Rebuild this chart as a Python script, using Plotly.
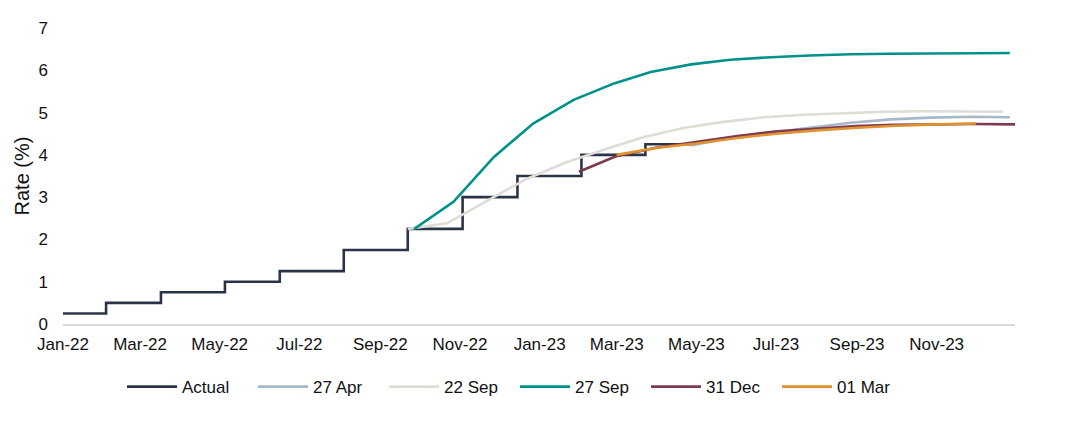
import plotly.graph_objects as go

# --- data ---
actual_dates = ["2022-01-01", "2022-02-03", "2022-03-17", "2022-05-05", "2022-06-16",
                "2022-08-04", "2022-09-22", "2022-11-03", "2022-12-15", "2023-02-02",
                "2023-03-23", "2023-04-27"]
actual_rate = [0.25, 0.5, 0.75, 1.0, 1.25, 1.75, 2.25, 3.0, 3.5, 4.0, 4.25, 4.25]

apr27_dates = ["2023-04-27", "2023-05-27", "2023-06-27", "2023-07-27", "2023-08-27",
               "2023-09-27", "2023-10-27", "2023-11-27", "2023-12-27"]
apr27_rate = [4.22, 4.40, 4.53, 4.65, 4.76, 4.84, 4.88, 4.90, 4.89]

sep22_dates = ["2022-09-22", "2022-10-22", "2022-11-22", "2022-12-22", "2023-01-22",
               "2023-02-22", "2023-03-22", "2023-04-22", "2023-05-22", "2023-06-22",
               "2023-07-22", "2023-08-22", "2023-09-22", "2023-10-22", "2023-11-22",
               "2023-12-22"]
sep22_rate = [2.25, 2.38, 2.92, 3.43, 3.83, 4.15, 4.42, 4.64, 4.78, 4.89,
              4.95, 4.99, 5.02, 5.03, 5.03, 5.02]

sep27_dates = ["2022-09-27", "2022-10-27", "2022-11-27", "2022-12-27", "2023-01-27",
               "2023-02-27", "2023-03-27", "2023-04-27", "2023-05-27", "2023-06-27",
               "2023-07-27", "2023-08-27", "2023-09-27", "2023-10-27", "2023-11-27",
               "2023-12-27"]
sep27_rate = [2.25, 2.89, 3.95, 4.74, 5.30, 5.69, 5.96, 6.14, 6.25, 6.31,
              6.35, 6.38, 6.39, 6.40, 6.41, 6.41]

dec31_dates = ["2023-01-31", "2023-02-28", "2023-03-31", "2023-04-30", "2023-05-31",
               "2023-06-30", "2023-07-31", "2023-08-31", "2023-09-30", "2023-10-31",
               "2023-11-30", "2023-12-31"]
dec31_rate = [3.60, 3.96, 4.17, 4.31, 4.44, 4.55, 4.62, 4.68, 4.71, 4.72, 4.73, 4.72]

mar01_dates = ["2023-03-01", "2023-04-01", "2023-05-01", "2023-06-01", "2023-07-01",
               "2023-08-01", "2023-09-01", "2023-10-01", "2023-11-01", "2023-12-01"]
mar01_rate = [4.00, 4.17, 4.27, 4.40, 4.50, 4.58, 4.64, 4.69, 4.72, 4.74]

series = [
    ("Actual", actual_dates, actual_rate, "#2b3447", "hv"),
    ("27 Apr", apr27_dates, apr27_rate, "#a7b9c9", "linear"),
    ("22 Sep", sep22_dates, sep22_rate, "#dddcd5", "linear"),
    ("27 Sep", sep27_dates, sep27_rate, "#00918b", "linear"),
    ("31 Dec", dec31_dates, dec31_rate, "#7e3a4f", "linear"),
    ("01 Mar", mar01_dates, mar01_rate, "#e0922f", "linear"),
]

fig = go.Figure()
for name, xs, ys, colour, shape in series:
    fig.add_trace(go.Scatter(x=xs, y=ys, name=name, mode="lines",
                             line=dict(color=colour, width=2.6, shape=shape)))

FONT = "Liberation Sans, Arial, sans-serif"

# the page body adds an 8px offset, so margins are shifted to compensate
fig.update_layout(
    width=1088, height=422,
    margin=dict(l=55, r=81, t=20, b=106),
    paper_bgcolor="white", plot_bgcolor="white",
    font=dict(family=FONT, size=17, color="#111111"),
    showlegend=True,
    legend=dict(orientation="h", x=0.062, xanchor="left", y=-0.213, yanchor="middle",
                font=dict(size=17), itemwidth=50, entrywidth=66, tracegroupgap=0),
)
fig.update_xaxes(
    type="date", range=["2022-01-01", "2023-12-31"],
    tick0="2022-01-01", dtick="M2", tickformat="%b-%y",
    showgrid=False, showline=True, linecolor="#d9d9d6", linewidth=1.5,
    ticks="", zeroline=False, ticklabelstandoff=4, automargin=False,
)
fig.update_yaxes(
    range=[0, 7], dtick=1, showgrid=False, zeroline=False, showline=False,
    title=dict(text="Rate (%)", standoff=3), ticks="", ticklabelstandoff=14,
    automargin=False,
)

fig.write_html("out.html")
